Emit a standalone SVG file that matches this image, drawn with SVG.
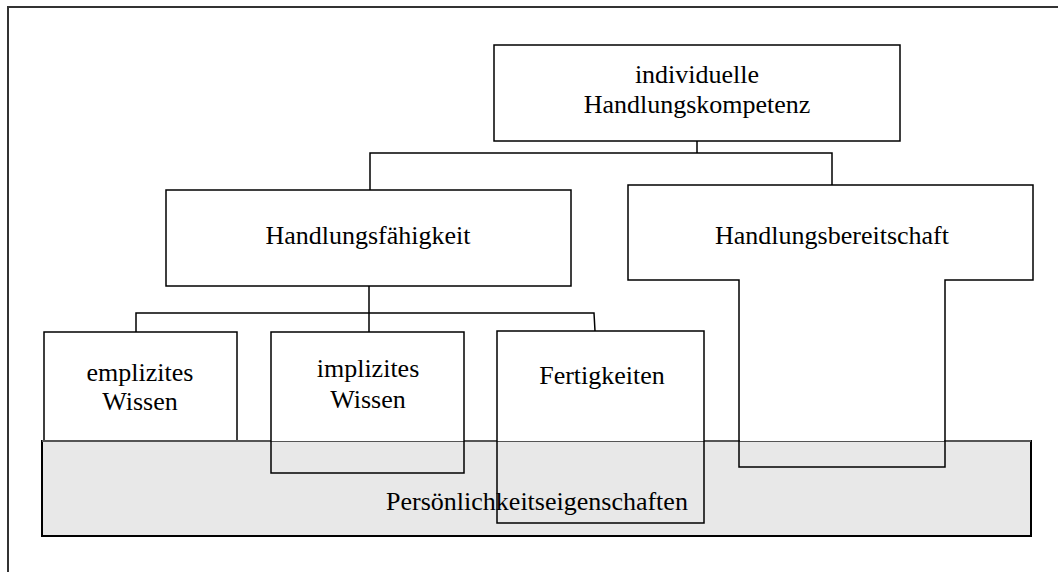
<svg xmlns="http://www.w3.org/2000/svg" width="1058" height="572" viewBox="0 0 1058 572">
<style>
.box{fill:#fff;stroke:#000;stroke-width:1.5}
.open{fill:none;stroke:#000;stroke-width:1.5}
.gray{fill:#e8e8e8;stroke:#000;stroke-width:2}
.conn{fill:none;stroke:#000;stroke-width:1.5}
text{font-family:"Liberation Serif","Times New Roman",serif;font-size:26px;fill:#000;text-anchor:middle}
</style>
<rect width="1058" height="572" fill="#fff"/>
<path d="M8 572 V7 H1058" fill="none" stroke="#333" stroke-width="2"/>
<g id="connectors">
<path class="conn" d="M697 141 V153 M370 195 V153 H832 V185"/>
<path class="conn" d="M369 286 V313 M136 332 V313 H594 L595 331 M369 313 V332"/>
</g>
<g id="n-top">
<rect class="box" x="494" y="45" width="406" height="96"/>
<text x="697" y="83">individuelle</text>
<text x="697" y="113">Handlungskompetenz</text>
</g>
<g id="n-faehigkeit">
<rect class="box" x="166" y="190" width="405" height="96"/>
<text x="368" y="244">Handlungsfähigkeit</text>
</g>
<g id="n-emplizit">
<rect class="box" x="44" y="332" width="193" height="120"/>
<text x="140" y="381">emplizites</text>
<text x="140" y="410">Wissen</text>
</g>
<g id="n-persoenlichkeit">
<rect class="gray" x="42" y="441" width="989" height="95"/>
<path d="M42 441 H1031" stroke="#555" stroke-width="2"/>
<text x="537" y="510">Persönlichkeitseigenschaften</text>
</g>
<g id="n-bereitschaft">
<path class="open" d="M628 185 H1033 V280 H945 V467 H739 V280 H628 Z"/>
<path d="M629 186 H1032 V279 H944 V441 H740 V279 H629 Z" fill="#fff"/>
<text x="832" y="244">Handlungsbereitschaft</text>
</g>
<g id="n-implizit">
<path d="M271 332 H464 V441 H271 Z" fill="#fff"/>
<rect class="open" x="271" y="332" width="193" height="141"/>
<text x="368" y="377">implizites</text>
<text x="368" y="408">Wissen</text>
</g>
<g id="n-fertigkeiten">
<path d="M497 331 H704 V441 H497 Z" fill="#fff"/>
<rect class="open" x="497" y="331" width="207" height="192"/>
<text x="602" y="384">Fertigkeiten</text>
</g>
</svg>
